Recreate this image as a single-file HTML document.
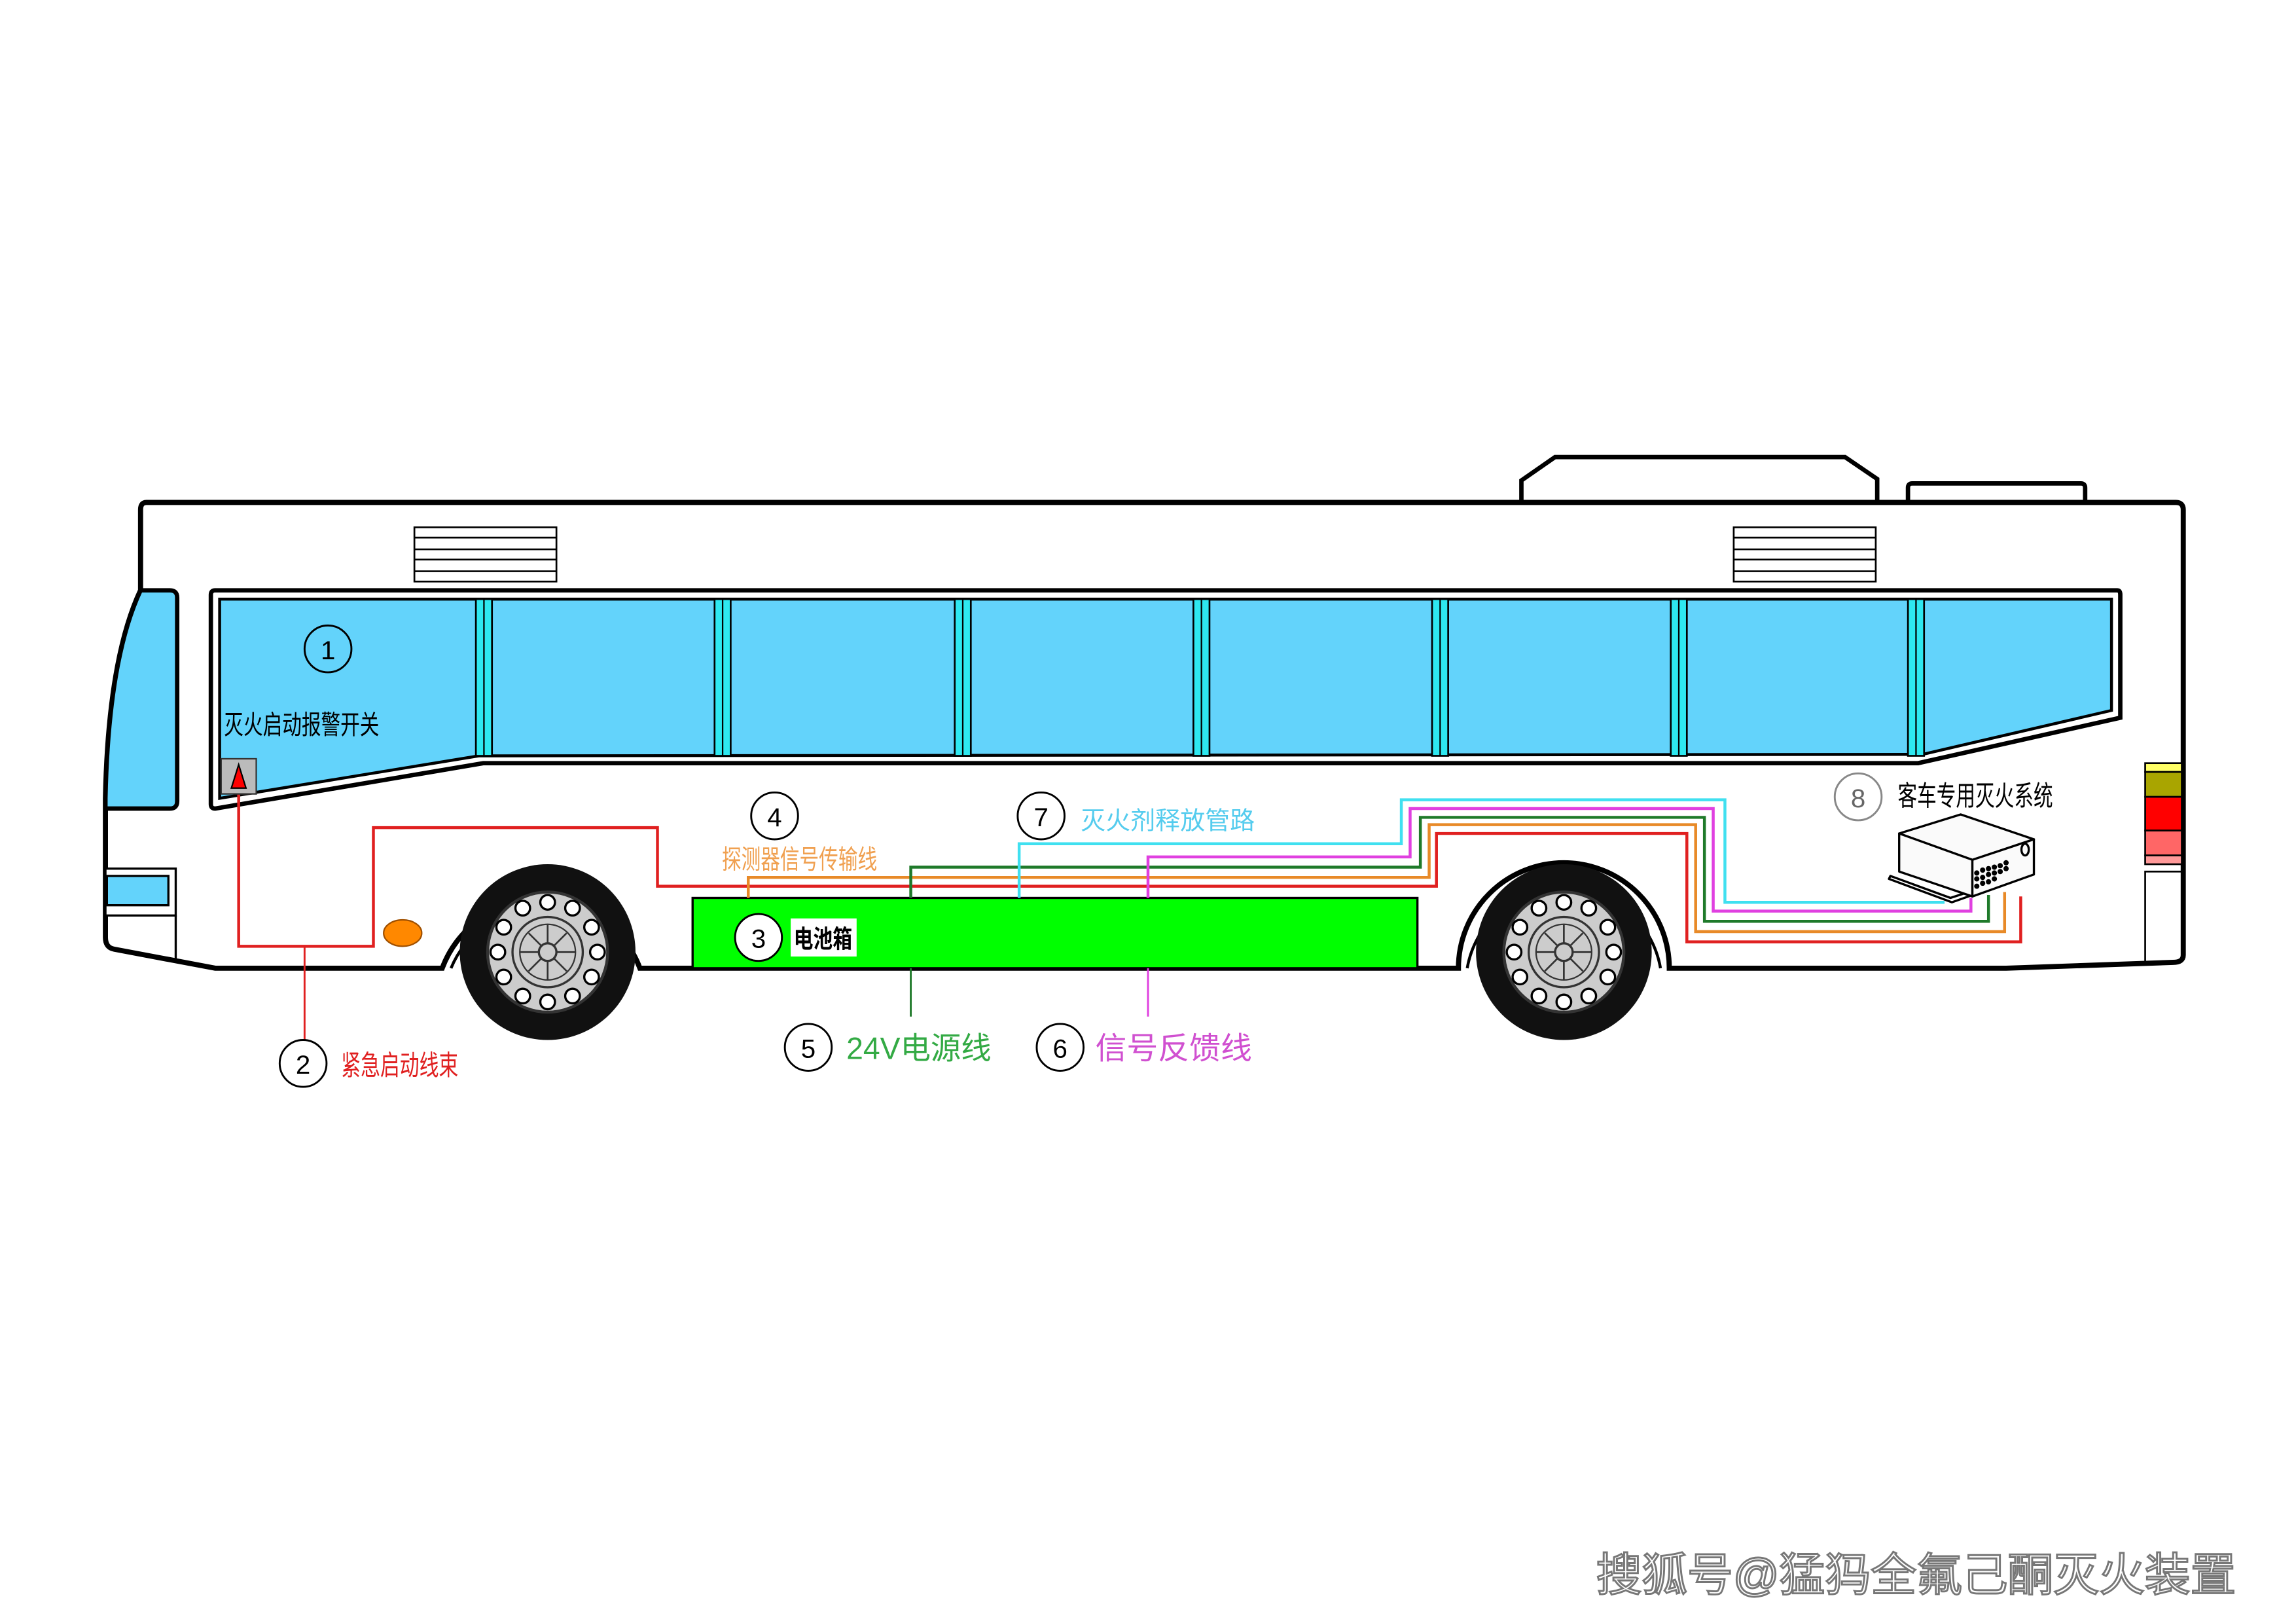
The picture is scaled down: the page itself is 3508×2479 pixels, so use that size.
<!DOCTYPE html>
<html><head><meta charset="utf-8"><style>
html,body{margin:0;padding:0;background:#fff;}
svg{display:block;}
text{font-family:"Liberation Sans","Noto Sans CJK SC",sans-serif;}
</style></head><body>
<svg width="3508" height="2479" viewBox="0 0 1568 1108" xmlns="http://www.w3.org/2000/svg">
<rect width="1568" height="1108" fill="#fff"/>
<path d="M1039,343 L1039,328 L1062,312 L1260,312 L1282,327 L1282,343" fill="#fff" stroke="#000" stroke-width="3"/>
<path d="M1303,343 L1303,333 Q1303,330 1306,330 L1421,330 Q1424,330 1424,333 L1424,343" fill="#fff" stroke="#000" stroke-width="3"/>
<path d="M100,343 L1486,343 Q1491,343 1491,348 L1491,652 Q1491,657 1484,657 L1370,661 L1140,661 A72,72 0 0 0 996,661 L437,661 A72,72 0 0 0 302,661 L147,661 L78,648 Q72,647 72,640 L72,545 Q74,450 96,403 L96,348 Q96,343 100,343 Z" fill="#fff" stroke="#000" stroke-width="3.5"/>
<path d="M308,661 A67,67 0 0 1 432,661" fill="none" stroke="#000" stroke-width="2"/>
<path d="M1002,661 A67,67 0 0 1 1134,661" fill="none" stroke="#000" stroke-width="2"/>
<path d="M96,403 L116,403 Q121,403 121,408 L121,547 Q121,552 116,552 L72,552 L72,545 Q74,450 96,403 Z" fill="#63d3fb" stroke="#000" stroke-width="3"/>
<rect x="72" y="593" width="48" height="32" fill="#fff" stroke="#000" stroke-width="1.5"/>
<rect x="73" y="598" width="42" height="20" fill="#63d3fb" stroke="#000" stroke-width="1.5"/>
<line x1="120" y1="625" x2="120" y2="656" stroke="#000" stroke-width="1.5"/>
<g stroke="#000" stroke-width="1.2" fill="#fff">
<rect x="283" y="360" width="97" height="37"/>
<line x1="283" y1="367" x2="380" y2="367"/><line x1="283" y1="375" x2="380" y2="375"/><line x1="283" y1="382" x2="380" y2="382"/><line x1="283" y1="390" x2="380" y2="390"/>
<rect x="1184" y="360" width="97" height="37"/>
<line x1="1184" y1="367" x2="1281" y2="367"/><line x1="1184" y1="375" x2="1281" y2="375"/><line x1="1184" y1="382" x2="1281" y2="382"/><line x1="1184" y1="390" x2="1281" y2="390"/>
</g>
<path d="M147,403 L1446,403 Q1448,403 1448,406 L1448,490 L1310,521 L330,521 L147,552 Q144,552 144,549 L144,406 Q144,403 147,403 Z" fill="#fff" stroke="#000" stroke-width="3"/>
<path d="M150,409 L1442,409 L1442,485 L1313,515 L327,516 L150,545 Z" fill="#63d3fb" stroke="#000" stroke-width="2"/>
<g stroke="#000" stroke-width="1.2" fill="#2ee8f0">
<rect x="325" y="409" width="11" height="107"/><rect x="488" y="409" width="11" height="107"/><rect x="652" y="409" width="11" height="107"/>
<rect x="815" y="409" width="11" height="107"/><rect x="978" y="409" width="11" height="107"/><rect x="1141" y="409" width="11" height="107"/><rect x="1303" y="409" width="11" height="107"/>
</g>
<g stroke="#000" stroke-width="1"><line x1="330.5" y1="409" x2="330.5" y2="516"/><line x1="493.5" y1="409" x2="493.5" y2="516"/><line x1="657.5" y1="409" x2="657.5" y2="516"/><line x1="820.5" y1="409" x2="820.5" y2="516"/><line x1="983.5" y1="409" x2="983.5" y2="516"/><line x1="1146.5" y1="409" x2="1146.5" y2="516"/><line x1="1308.5" y1="409" x2="1308.5" y2="516"/></g>
<g stroke="#000" stroke-width="1.2">
<rect x="1465" y="521" width="25" height="6" fill="#ffff66"/>
<rect x="1465" y="527" width="25" height="17" fill="#a9a500"/>
<rect x="1465" y="544" width="25" height="23" fill="#ff0000"/>
<rect x="1465" y="567" width="25" height="17" fill="#ff6666"/>
<rect x="1465" y="584" width="25" height="6" fill="#ff9999"/>
<path d="M1465,656 L1465,595 L1490,595" fill="none"/>
</g>
<rect x="473" y="613" width="495" height="48" fill="#00ff00" stroke="#000" stroke-width="1.5"/>
<ellipse cx="275" cy="637" rx="13" ry="9" fill="#ff8800" stroke="#a05000" stroke-width="1"/>
<g id="w">
<circle cx="374" cy="650" r="60" fill="#111"/>
<circle cx="374" cy="650" r="41" fill="#ccc" stroke="#333" stroke-width="2"/>
<g fill="#fff" stroke="#000" stroke-width="1.5">
<circle cx="374" cy="616" r="5"/><circle cx="391" cy="620" r="5"/><circle cx="404" cy="633" r="5"/><circle cx="408" cy="650" r="5"/><circle cx="404" cy="667" r="5"/><circle cx="391" cy="680" r="5"/><circle cx="374" cy="684" r="5"/><circle cx="357" cy="680" r="5"/><circle cx="344" cy="667" r="5"/><circle cx="340" cy="650" r="5"/><circle cx="344" cy="633" r="5"/><circle cx="357" cy="620" r="5"/>
</g>
<circle cx="374" cy="650" r="24" fill="#ccc" stroke="#333" stroke-width="1.5"/>
<circle cx="374" cy="650" r="19" fill="none" stroke="#333" stroke-width="1"/>
<g stroke="#333" stroke-width="1.2"><line x1="374" y1="631" x2="374" y2="669"/><line x1="355" y1="650" x2="393" y2="650"/><line x1="361" y1="637" x2="387" y2="663"/><line x1="387" y1="637" x2="361" y2="663"/></g>
<circle cx="374" cy="650" r="6" fill="#ccc" stroke="#333" stroke-width="1.5"/>
</g>
<use href="#w" x="694" y="0"/>
<g fill="none" stroke-width="2">
<path d="M163,540 L163,646 L255,646 L255,565 L449,565 L449,605 L981,605 L981,569 L1152,569 L1152,643 L1380,643 L1380,612" stroke="#e02020"/>
<path d="M208,646 L208,712" stroke="#e02020" stroke-width="1.3"/>
<path d="M511,613 L511,599 L976,599 L976,563 L1158,563 L1158,636 L1369,636 L1369,609" stroke="#e88a28"/>
<path d="M622,613 L622,592 L970,592 L970,558 L1164,558 L1164,629 L1358,629 L1358,611" stroke="#1f7a2a"/>
<path d="M784,613 L784,585 L963,585 L963,552 L1170,552 L1170,622 L1346,622 L1346,613" stroke="#e040e0"/>
<path d="M696,613 L696,576 L957,576 L957,546 L1178,546 L1178,616 L1328,616" stroke="#40e0f0"/>
<path d="M622,661 L622,694" stroke="#1f7a2a" stroke-width="1.3"/>
<path d="M784,661 L784,694" stroke="#e040e0" stroke-width="1.3"/>
</g>
<rect x="151" y="518" width="24" height="24" fill="#bbb" stroke="#333" stroke-width="1"/>
<path d="M163,522 L168,538 L158,538 Z" fill="#ff0000" stroke="#000" stroke-width="1"/>
<g stroke="#000" stroke-width="1.5" stroke-linejoin="round">
<path d="M1291,598 L1332,613 L1384,596 L1384,598 L1333,616 L1290,600 Z" fill="#fff"/>
<path d="M1297,569 L1339,556 L1389,573 L1347,587 Z" fill="#fafafa"/>
<path d="M1297,569 L1347,587 L1347,612 L1297,595 Z" fill="#fafafa"/>
<path d="M1347,587 L1389,573 L1389,597 L1347,612 Z" fill="#fafafa"/>
<ellipse cx="1383" cy="580" rx="2.5" ry="4" fill="none"/>
</g>
<g fill="#000">
<circle cx="1350" cy="596" r="1.8"/><circle cx="1354" cy="594" r="1.8"/><circle cx="1358" cy="593" r="1.8"/><circle cx="1362" cy="592" r="1.8"/><circle cx="1366" cy="591" r="1.8"/><circle cx="1370" cy="589" r="1.8"/>
<circle cx="1350" cy="600" r="1.8"/><circle cx="1354" cy="599" r="1.8"/><circle cx="1358" cy="597" r="1.8"/><circle cx="1362" cy="596" r="1.8"/><circle cx="1366" cy="595" r="1.8"/><circle cx="1370" cy="593" r="1.8"/>
<circle cx="1350" cy="605" r="1.8"/><circle cx="1354" cy="603" r="1.8"/><circle cx="1358" cy="602" r="1.8"/><circle cx="1362" cy="600" r="1.8"/>
</g>
<g fill="#fff" stroke="#000" stroke-width="1.3">
<circle cx="224" cy="443" r="16" fill="none"/>
<circle cx="207" cy="726" r="16"/>
<circle cx="518" cy="640" r="16"/>
<circle cx="529" cy="557" r="16"/>
<circle cx="552" cy="715" r="16"/>
<circle cx="724" cy="715" r="16"/>
<circle cx="711" cy="557" r="16"/>
<circle cx="1269" cy="544" r="16" stroke="#888"/>
</g>
<g font-size="18" text-anchor="middle" fill="#000">
<text x="224" y="450">1</text><text x="207" y="733">2</text><text x="518" y="647">3</text><text x="529" y="564">4</text>
<text x="552" y="722">5</text><text x="724" y="722">6</text><text x="711" y="564">7</text><text x="1269" y="551" fill="#666">8</text>
</g>
<rect x="540" y="627" width="45" height="26" fill="#fff"/>
<text x="542" y="647" font-size="17" font-weight="bold" textLength="40" lengthAdjust="spacingAndGlyphs">电池箱</text>
<text x="153" y="501" font-size="18" textLength="106" lengthAdjust="spacingAndGlyphs">灭火启动报警开关</text>
<text x="233" y="734" font-size="19" fill="#e02020" textLength="80" lengthAdjust="spacingAndGlyphs">紧急启动线束</text>
<text x="493" y="593" font-size="18" fill="#f0a050" textLength="106" lengthAdjust="spacingAndGlyphs">探测器信号传输线</text>
<text x="578" y="723" font-size="21" fill="#33aa44" textLength="99" lengthAdjust="spacingAndGlyphs">24V电源线</text>
<text x="748" y="723" font-size="21" fill="#d050d0" textLength="107" lengthAdjust="spacingAndGlyphs">信号反馈线</text>
<text x="738" y="566" font-size="17" fill="#55ccee" textLength="119" lengthAdjust="spacingAndGlyphs">灭火剂释放管路</text>
<text x="1296" y="550" font-size="19" fill="#000" textLength="106" lengthAdjust="spacingAndGlyphs">客车专用灭火系统</text>
<text x="1090" y="1086" font-size="31" fill="#fff" stroke="#777" stroke-width="1.3" textLength="437" lengthAdjust="spacingAndGlyphs">搜狐号@猛犸全氟己酮灭火装置</text>
</svg>
</body></html>
